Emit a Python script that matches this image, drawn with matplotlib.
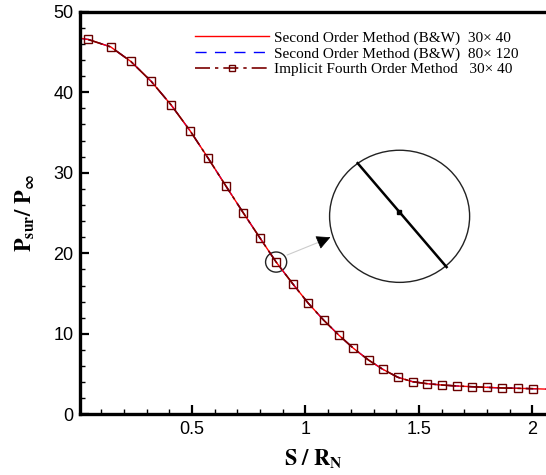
import matplotlib
matplotlib.use("Agg")
import matplotlib.pyplot as plt
from matplotlib.patches import Ellipse
from matplotlib.ticker import MultipleLocator, FormatStrFormatter

plt.rcParams['mathtext.fontset'] = 'stix'

# surface pressure ratio along the body, implicit 4th order scheme (30x40)
s_4th = [0.043, 0.142, 0.231, 0.321, 0.409, 0.493, 0.572, 0.650, 0.726, 0.801,
         0.871, 0.944, 1.012, 1.080, 1.148, 1.211, 1.278, 1.341, 1.407, 1.472,
         1.537, 1.601, 1.666, 1.732, 1.798, 1.866, 1.935, 2.004]
p_4th = [46.55, 45.63, 43.82, 41.34, 38.40, 35.17, 31.79, 28.35, 25.04, 21.86,
         18.92, 16.23, 13.83, 11.72, 9.83, 8.23, 6.76, 5.61, 4.62, 4.07,
         3.82, 3.66, 3.54, 3.45, 3.37, 3.29, 3.25, 3.20]

# second order (B&W) solutions on the coarse and fine grids
s_bw30 = [0.009] + s_4th + [2.06]
p_bw30 = [46.70] + p_4th + [3.15]
s_bw80 = [0.009] + s_4th + [2.06]
p_bw80 = [46.68] + p_4th + [3.15]

labels = ['Second Order Method (B&W)  30\u00d7 40',
          'Second Order Method (B&W)  80\u00d7 120',
          'Implicit Fourth Order Method   30\u00d7 40']

fig = plt.figure(figsize=(5.46, 4.75), dpi=100)
ax = fig.add_axes([0.1474, 0.1274, 0.8526, 0.848])

ax.plot(s_bw80, p_bw80, color='#0000ff', lw=1.0, dashes=(8, 6), label=labels[1])
ax.plot(s_bw30, p_bw30, color='#ff0000', lw=1.0, label=labels[0])
ax.plot(s_4th, p_4th, color='#7a0000', lw=1.2, ls=(0, (9, 3, 2, 3)),
        marker='s', ms=5.5, mfc='none', mec='#6a0000', mew=1.0, label=labels[2])

ax.set_xlim(0.009, 2.06)
ax.set_ylim(0, 50)
ax.xaxis.set_major_locator(MultipleLocator(0.5))
ax.xaxis.set_minor_locator(MultipleLocator(0.1))
ax.xaxis.set_major_formatter(FormatStrFormatter('%g'))
ax.yaxis.set_major_locator(MultipleLocator(10))
ax.yaxis.set_minor_locator(MultipleLocator(2))
ax.tick_params(which='both', direction='in', top=False, right=False,
               labelsize=13, pad=5)
ax.tick_params(which='major', length=6.5, width=1.6)
ax.tick_params(which='minor', length=3.6, width=1.0)
for lab in ax.get_xticklabels() + ax.get_yticklabels():
    lab.set_fontfamily('Liberation Sans')

for side in ('left', 'bottom', 'top'):
    ax.spines[side].set_linewidth(2.4)
ax.spines['right'].set_visible(False)

ax.set_xlabel(r'$\mathbf{S\ /\ R_N}$', fontsize=16, labelpad=7)
ax.set_ylabel(r'$\mathbf{P_{sur}/\ P_\infty}$', fontsize=16, labelpad=12)

# legend order: coarse B&W, fine B&W, implicit 4th order
h, l = ax.get_legend_handles_labels()
order = [1, 0, 2]
ax.legend([h[i] for i in order], [l[i] for i in order], loc='upper left',
          bbox_to_anchor=(0.232, 0.967), frameon=False, handlelength=4.9,
          handletextpad=0.33, labelspacing=0.12, borderaxespad=0,
          markerscale=0.9, prop={'family': 'Liberation Serif', 'size': 11})

# highlight one point and show an enlarged view of it
i0 = 10
ax.add_patch(Ellipse((s_4th[i0], p_4th[i0]), 0.093, 2.5, fill=False,
                     ec='#222222', lw=1.0))
ax.plot([0.920, 1.095], [19.8, 21.8], color='#cccccc', lw=0.8)
ax.annotate('', xy=(1.110, 22.0), xytext=(1.060, 21.4),
            arrowprops=dict(arrowstyle='-|>', color='black', lw=0.5,
                            mutation_scale=22, shrinkA=0, shrinkB=0))
ax.add_patch(Ellipse((1.415, 24.6), 0.617, 16.4, fill=False,
                     ec='#222222', lw=1.0))
ax.plot([1.230, 1.622], [31.2, 18.3], color='black', lw=1.8)
ax.plot([1.412], [25.15], marker='s', ms=2.5, color='black')

fig.savefig('out.png', dpi=100)
